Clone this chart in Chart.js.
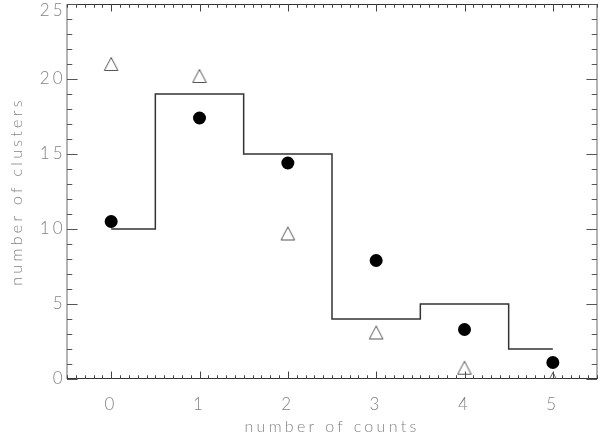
<!DOCTYPE html>
<html>
<head>
<meta charset="utf-8">
<script src="https://cdn.jsdelivr.net/npm/chart.js@4/dist/chart.umd.min.js"></script>
<style>
  html, body { margin: 0; padding: 0; background: #ffffff; }
  #wrap { width: 600px; height: 435px; position: relative; }
</style>
</head>
<body>
<div id="wrap"><canvas id="c"></canvas></div>
<script>
// ---- data ----
const COUNTS = [0, 1, 2, 3, 4, 5];
const HISTOGRAM = [10, 19, 15, 4, 5, 2];
const FILLED_CIRCLES = [10.5, 17.4, 14.4, 7.9, 3.3, 1.1];
const OPEN_TRIANGLES = [21.0, 20.2, 9.7, 3.1, 0.75, 0];
const X_TICKS = [0, 1, 2, 3, 4, 5];
const Y_TICKS = [0, 5, 10, 15, 20, 25];
const X_RANGE = [-0.5, 5.5];
const Y_RANGE = [0, 25];
const X_TITLE = 'number of counts';
const Y_TITLE = 'number of clusters';

// ---- styles ----
const FONT_FAMILY = "Lato, 'Liberation Sans', sans-serif";
const TEXT_COLOR = '#828282';
const LETTER_SPACING = '3.3px';

function triangleImage() {
  const c = document.createElement('canvas');
  c.width = 16; c.height = 16;
  const g = c.getContext('2d');
  g.strokeStyle = '#555555';
  g.lineWidth = 1;
  g.beginPath();
  g.moveTo(8, 1.5);
  g.lineTo(14.8, 14.5);
  g.lineTo(1.2, 14.5);
  g.closePath();
  g.stroke();
  return c;
}

const spacingPlugin = {
  id: 'spacing',
  beforeUpdate(chart) { chart.ctx.letterSpacing = LETTER_SPACING; },
  beforeDraw(chart) { chart.ctx.letterSpacing = LETTER_SPACING; }
};

const framePlugin = {
  id: 'frame',
  beforeDatasetsDraw(chart) {
    const { ctx, chartArea: a, scales: { x, y } } = chart;
    ctx.save();
    // left / right axes (lighter)
    ctx.strokeStyle = '#9a9a9a';
    ctx.lineWidth = 1.5;
    ctx.beginPath();
    ctx.moveTo(a.left, a.top); ctx.lineTo(a.left, a.bottom);
    ctx.moveTo(a.right, a.top); ctx.lineTo(a.right, a.bottom);
    ctx.stroke();
    // top / bottom axes
    ctx.strokeStyle = '#333333';
    ctx.lineWidth = 1;
    ctx.beginPath();
    ctx.moveTo(a.left, a.top + 0.5); ctx.lineTo(a.right, a.top + 0.5);
    ctx.moveTo(a.left, a.bottom - 0.5); ctx.lineTo(a.right, a.bottom - 0.5);
    ctx.stroke();
    // x ticks: minor every 0.1, major every 1 (inward, top and bottom)
    const xMajor = 0.02 * (a.bottom - a.top);
    ctx.strokeStyle = '#444444';
    ctx.lineWidth = 1;
    ctx.beginPath();
    for (let k = Math.ceil(X_RANGE[0] * 10); k <= Math.floor(X_RANGE[1] * 10); k++) {
      const px = Math.round(x.getPixelForValue(k / 10)) + 0.5;
      const len = (k % 10 === 0) ? xMajor : xMajor / 2;
      ctx.moveTo(px, a.bottom); ctx.lineTo(px, a.bottom - len);
      ctx.moveTo(px, a.top); ctx.lineTo(px, a.top + len);
    }
    ctx.stroke();
    // y ticks: minor every 1, major every 5 (inward, left and right)
    const yMajor = 0.02 * (a.right - a.left);
    ctx.strokeStyle = '#555555';
    ctx.beginPath();
    for (let k = Y_RANGE[0]; k <= Y_RANGE[1]; k++) {
      const py = Math.round(y.getPixelForValue(k)) + 0.5;
      const len = (k % 5 === 0) ? yMajor : yMajor / 2;
      ctx.moveTo(a.left, py); ctx.lineTo(a.left + len, py);
      ctx.moveTo(a.right, py); ctx.lineTo(a.right - len, py);
    }
    ctx.stroke();
    ctx.restore();
  }
};

const ctx = document.getElementById('c');
new Chart(ctx, {
  type: 'scatter',
  data: {
    datasets: [
      {
        type: 'line',
        label: 'histogram',
        data: COUNTS.map((c, i) => ({ x: c, y: HISTOGRAM[i] })),
        stepped: 'middle',
        borderColor: '#333333',
        borderWidth: 1.5,
        pointRadius: 0,
        fill: false,
        clip: 0
      },
      {
        label: 'filled circles',
        data: COUNTS.map((c, i) => ({ x: c, y: FILLED_CIRCLES[i] })),
        pointStyle: 'circle',
        pointRadius: 6.5,
        backgroundColor: '#000000',
        borderWidth: 0,
        showLine: false,
        clip: 0
      },
      {
        label: 'open triangles',
        data: COUNTS.map((c, i) => ({ x: c, y: OPEN_TRIANGLES[i] })),
        pointStyle: triangleImage(),
        pointRadius: 7,
        showLine: false,
        clip: 0
      }
    ]
  },
  options: {
    responsive: true,
    maintainAspectRatio: false,
    animation: false,
    events: [],
    layout: { autoPadding: false, padding: { top: 4, right: 3, left: 0, bottom: 0 } },
    plugins: { legend: { display: false }, tooltip: { enabled: false } },
    scales: {
      x: {
        type: 'linear',
        min: X_RANGE[0],
        max: X_RANGE[1],
        afterBuildTicks(s) { s.ticks = X_TICKS.map(v => ({ value: v })); },
        afterFit(s) { s.height = 56; s.paddingLeft = 0; s.paddingRight = 0; },
        grid: { display: false, drawTicks: false },
        border: { display: false },
        ticks: {
          color: TEXT_COLOR,
          padding: 15,
          maxRotation: 0,
          font: { family: FONT_FAMILY, size: 17, weight: 300 }
        },
        title: {
          display: true,
          text: X_TITLE,
          color: TEXT_COLOR,
          padding: { top: 0, bottom: 0 },
          font: { family: FONT_FAMILY, size: 16, weight: 300, lineHeight: 1 }
        }
      },
      y: {
        type: 'linear',
        min: Y_RANGE[0],
        max: Y_RANGE[1],
        afterBuildTicks(s) { s.ticks = Y_TICKS.map(v => ({ value: v })); },
        afterFit(s) { s.width = 67; s.paddingTop = 0; s.paddingBottom = 0; },
        grid: { display: false, drawTicks: false },
        border: { display: false },
        ticks: {
          color: TEXT_COLOR,
          padding: 1,
          callback: (v) => v === Y_RANGE[1] ? ['', String(v)] : String(v),
          font: (c) => ({
            family: FONT_FAMILY, size: 17, weight: 300,
            lineHeight: (c.tick && c.tick.value === Y_RANGE[1]) ? '14px' : 1.2
          })
        },
        title: {
          display: true,
          text: Y_TITLE,
          color: TEXT_COLOR,
          padding: { top: 9, bottom: 0 },
          font: { family: FONT_FAMILY, size: 16, weight: 300, lineHeight: 1 }
        }
      }
    }
  },
  plugins: [spacingPlugin, framePlugin]
});
</script>
</body>
</html>
